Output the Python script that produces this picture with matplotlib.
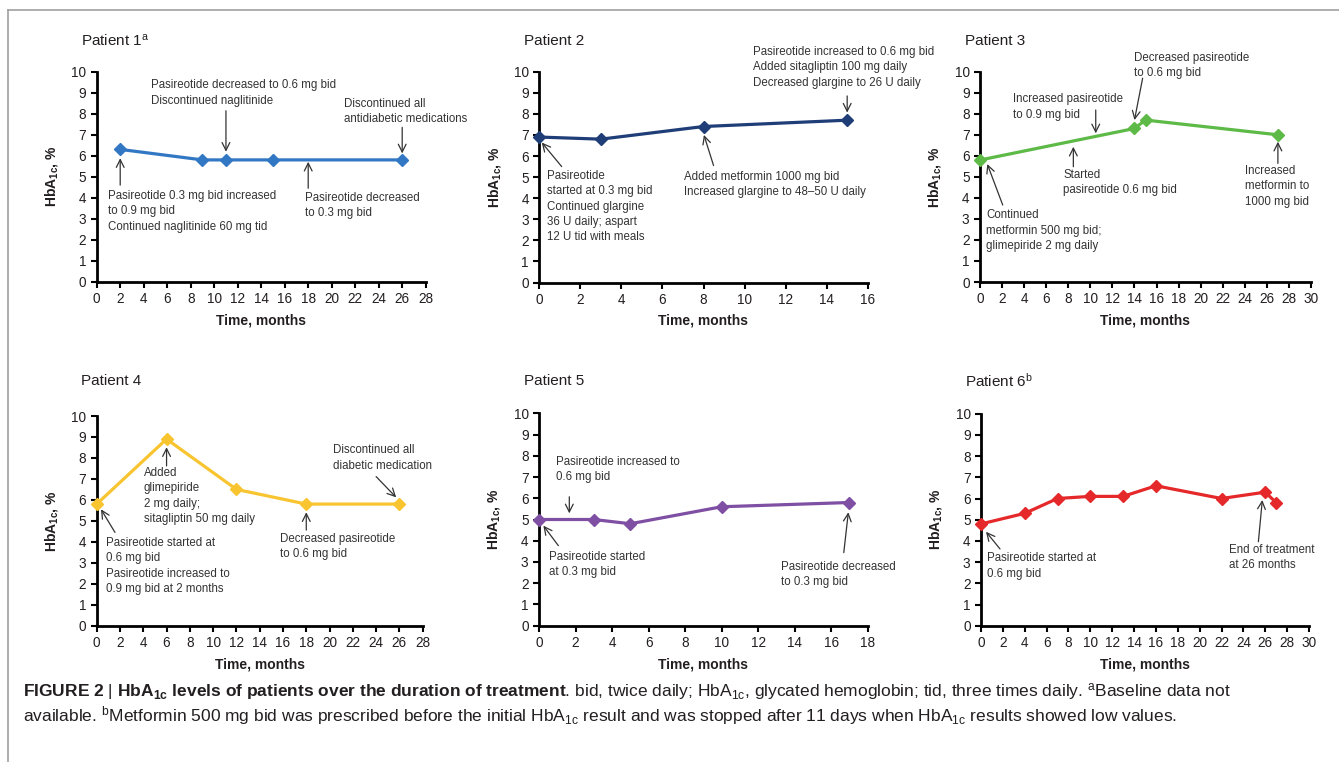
import matplotlib.pyplot as plt
from matplotlib.lines import Line2D
import numpy as np

plt.rcParams['font.family'] = ['Liberation Sans', 'DejaVu Sans']
plt.rcParams['mathtext.fontset'] = 'custom'
plt.rcParams['mathtext.rm'] = 'Liberation Sans'
plt.rcParams['mathtext.bf'] = 'Liberation Sans:bold'
plt.rcParams['mathtext.it'] = 'Liberation Sans:italic'

W, H = 1339, 762

# HbA1c values (months, %)
p1_months = [2, 9, 11, 15, 26]
p1_hba1c = [6.3, 5.8, 5.8, 5.8, 5.8]
p2_months = [0, 3, 8, 15]
p2_hba1c = [6.9, 6.8, 7.4, 7.7]
p3_months = [0, 14, 15, 27]
p3_hba1c = [5.8, 7.3, 7.7, 7.0]
p4_months = [0, 6, 12, 18, 26]
p4_hba1c = [5.8, 8.9, 6.5, 5.8, 5.8]
p5_months = [0, 3, 5, 10, 17]
p5_hba1c = [5.0, 5.0, 4.8, 5.6, 5.8]
p6_months = [0, 4, 7, 10, 13, 16, 22, 26, 27]
p6_hba1c = [4.8, 5.3, 6.0, 6.1, 6.1, 6.6, 6.0, 6.3, 5.8]

titles = ['Patient 1$^\\mathregular{a}$', 'Patient 2', 'Patient 3',
          'Patient 4', 'Patient 5', 'Patient 6$^\\mathregular{b}$']
colors = ['#3277c4', '#1f3e78', '#5dba47', '#f8c531', '#7f4fa3', '#e5292b']
xmax = [28, 16, 30, 28, 18, 30]

# notes: text, text top-left, arrow tail, arrow tip (data coords)
p1_notes = [
    ("Pasireotide decreased to 0.6 mg bid\nDiscontinued naglitinide", (4.62, 9.64), (11, 8.14), (11, 6.19)),
    ("Discontinued all\nantidiabetic medications", (21.05, 8.75), (26, 7.35), (26, 6.11)),
    ("Pasireotide 0.3 mg bid increased\nto 0.9 mg bid\nContinued naglitinide 60 mg tid", (0.96, 4.37), (2, 4.6), (2, 5.88)),
    ("Pasireotide decreased\nto 0.3 mg bid", (17.7, 4.29), (18, 4.45), (18, 5.71)),
]
p2_notes = [
    ("Pasireotide\nstarted at 0.3 mg bid\nContinued glargine\n36 U daily; aspart\n12 U tid with meals", (0.36, 5.35), (1.09, 5.5), (0.12, 6.64)),
    ("Added metformin 1000 mg bid\nIncreased glargine to 48\u201350 U daily", (7.04, 5.31), (8.49, 5.55), (8.02, 7.0)),
    ("Pasireotide increased to 0.6 mg bid\nAdded sitagliptin 100 mg daily\nDecreased glargine to 26 U daily", (10.4, 11.22), (15, 8.85), (15, 8.06)),
]
p3_notes = [
    ("Continued\nmetformin 500 mg bid;\nglimepiride 2 mg daily", (0.54, 3.46), (2.06, 3.66), (0.66, 5.61)),
    ("Started\npasireotide 0.6 mg bid", (7.55, 5.37), (8.46, 5.48), (8.46, 6.43)),
    ("Increased pasireotide\nto 0.9 mg bid", (3.02, 8.97), (10.49, 8.18), (10.49, 7.07)),
    ("Decreased pasireotide\nto 0.6 mg bid", (13.99, 10.95), (14.74, 9.69), (14.0, 7.7)),
    ("Increased\nmetformin to\n1000 mg bid", (24.06, 5.56), (27, 5.64), (27, 6.67)),
]
p4_notes = [
    ("Pasireotide started at\n0.6 mg bid\nPasireotide increased to\n0.9 mg bid at 2 months", (0.77, 4.24), (1.57, 4.45), (0.37, 5.55)),
    ("Added\nglimepiride\n2 mg daily;\nsitagliptin 50 mg daily", (4.04, 7.58), (6, 7.62), (6, 8.51)),
    ("Decreased pasireotide\nto 0.6 mg bid", (15.75, 4.44), (18, 4.56), (18, 5.41)),
    ("Discontinued all\ndiabetic medication", (20.27, 8.66), (24.0, 7.11), (25.72, 6.12)),
]
p5_notes = [
    ("Pasireotide increased to\n0.6 mg bid", (0.93, 8.0), (1.66, 6.07), (1.66, 5.29)),
    ("Pasireotide started\nat 0.3 mg bid", (0.55, 3.52), (1.06, 3.77), (0.24, 4.71)),
    ("Pasireotide decreased\nto 0.3 mg bid", (13.24, 3.05), (16.69, 3.44), (16.94, 5.34)),
]
p6_notes = [
    ("Pasireotide started at\n0.6 mg bid", (0.58, 3.46), (1.74, 3.62), (0.46, 4.43)),
    ("End of treatment\nat 26 months", (22.69, 3.85), (25.37, 3.96), (25.73, 5.93)),
]

months = [p1_months, p2_months, p3_months, p4_months, p5_months, p6_months]
hba1c = [p1_hba1c, p2_hba1c, p3_hba1c, p4_hba1c, p5_hba1c, p6_hba1c]
notes = [p1_notes, p2_notes, p3_notes, p4_notes, p5_notes, p6_notes]

# axes boxes in pixels: left, top, right, bottom
rects = [(96.7, 71.7, 425.7, 281.7), (539.3, 71.7, 867.7, 282.5), (980, 71.7, 1311, 282),
         (96.7, 416, 422.7, 625.7), (539, 413.3, 867.7, 625.7), (981, 413.7, 1309, 625.7)]
title_pos = [(81, 41), (524, 41), (965, 41), (81, 381), (524, 381), (965, 381)]

txt_col = '#231f20'
fig = plt.figure(figsize=(W / 100, H / 100), dpi=100)

for i in range(6):
    l, t, r, b = rects[i]
    ax = fig.add_axes([l / W, 1 - b / H, (r - l) / W, (b - t) / H])
    ax.plot(months[i], hba1c[i], color=colors[i], lw=2.3, marker='D', ms=6.3,
            clip_on=False, zorder=3)
    ax.set_xlim(0, xmax[i])
    ax.set_ylim(0, 10)
    ax.set_xticks(np.arange(0, xmax[i] + 1, 2))
    ax.set_yticks(range(11))
    ax.spines[['top', 'right']].set_visible(False)
    for s in ['left', 'bottom']:
        ax.spines[s].set_linewidth(2)
        ax.spines[s].set_color('black')
    ax.tick_params(direction='out', length=4.5, width=1.5, labelsize=9.8,
                   labelcolor=txt_col, pad=3)
    ax.set_xlabel('Time, months', fontsize=10, fontweight='bold', labelpad=5, color=txt_col)
    ax.set_ylabel('HbA$_\\mathregular{1c}$, %', fontsize=10, fontweight='bold',
                  labelpad=8, color=txt_col)

    for txt, (tx, ty), tail, tip in notes[i]:
        ax.text(tx, ty, txt, fontsize=8.3, va='top', ha='left', linespacing=1.38,
                color='#333333')
        ax.annotate('', xy=tip, xytext=tail, annotation_clip=False,
                    arrowprops=dict(arrowstyle='->', color='#333333', lw=0.9,
                                    shrinkA=0, shrinkB=0, mutation_scale=14))

    x, y = title_pos[i]
    fig.text(x / W, 1 - y / H, titles[i], fontsize=11, ha='left', va='center', color=txt_col)

# caption
line1 = ("$\\mathbf{FIGURE\\ 2}$ | $\\mathbf{HbA_{1c}\\ levels\\ of\\ patients\\ over\\ the\\ duration\\ of\\ treatment}$"
         ". bid, twice daily; HbA$_\\mathregular{1c}$, glycated hemoglobin; tid, three times daily. "
         "$^\\mathregular{a}$Baseline data not")
line2 = ("available. $^\\mathregular{b}$Metformin 500 mg bid was prescribed before the initial HbA$_\\mathregular{1c}$ "
         "result and was stopped after 11 days when HbA$_\\mathregular{1c}$ results showed low values.")
fig.text(23 / W, 1 - 692 / H, line1, fontsize=12.5, family='Liberation Sans', ha='left', va='center', color=txt_col)
fig.text(23 / W, 1 - 716 / H, line2, fontsize=12.5, family='Liberation Sans', ha='left', va='center', color=txt_col)

# thin frame around the figure panel
fig.add_artist(Line2D([8 / W, 1], [1 - 10 / H, 1 - 10 / H], color='#a0a0a0', lw=1.2,
                      transform=fig.transFigure))
fig.add_artist(Line2D([8 / W, 8 / W], [1 - 10 / H, 0], color='#a0a0a0', lw=1.2,
                      transform=fig.transFigure))

fig.savefig('out.png', dpi=100)
